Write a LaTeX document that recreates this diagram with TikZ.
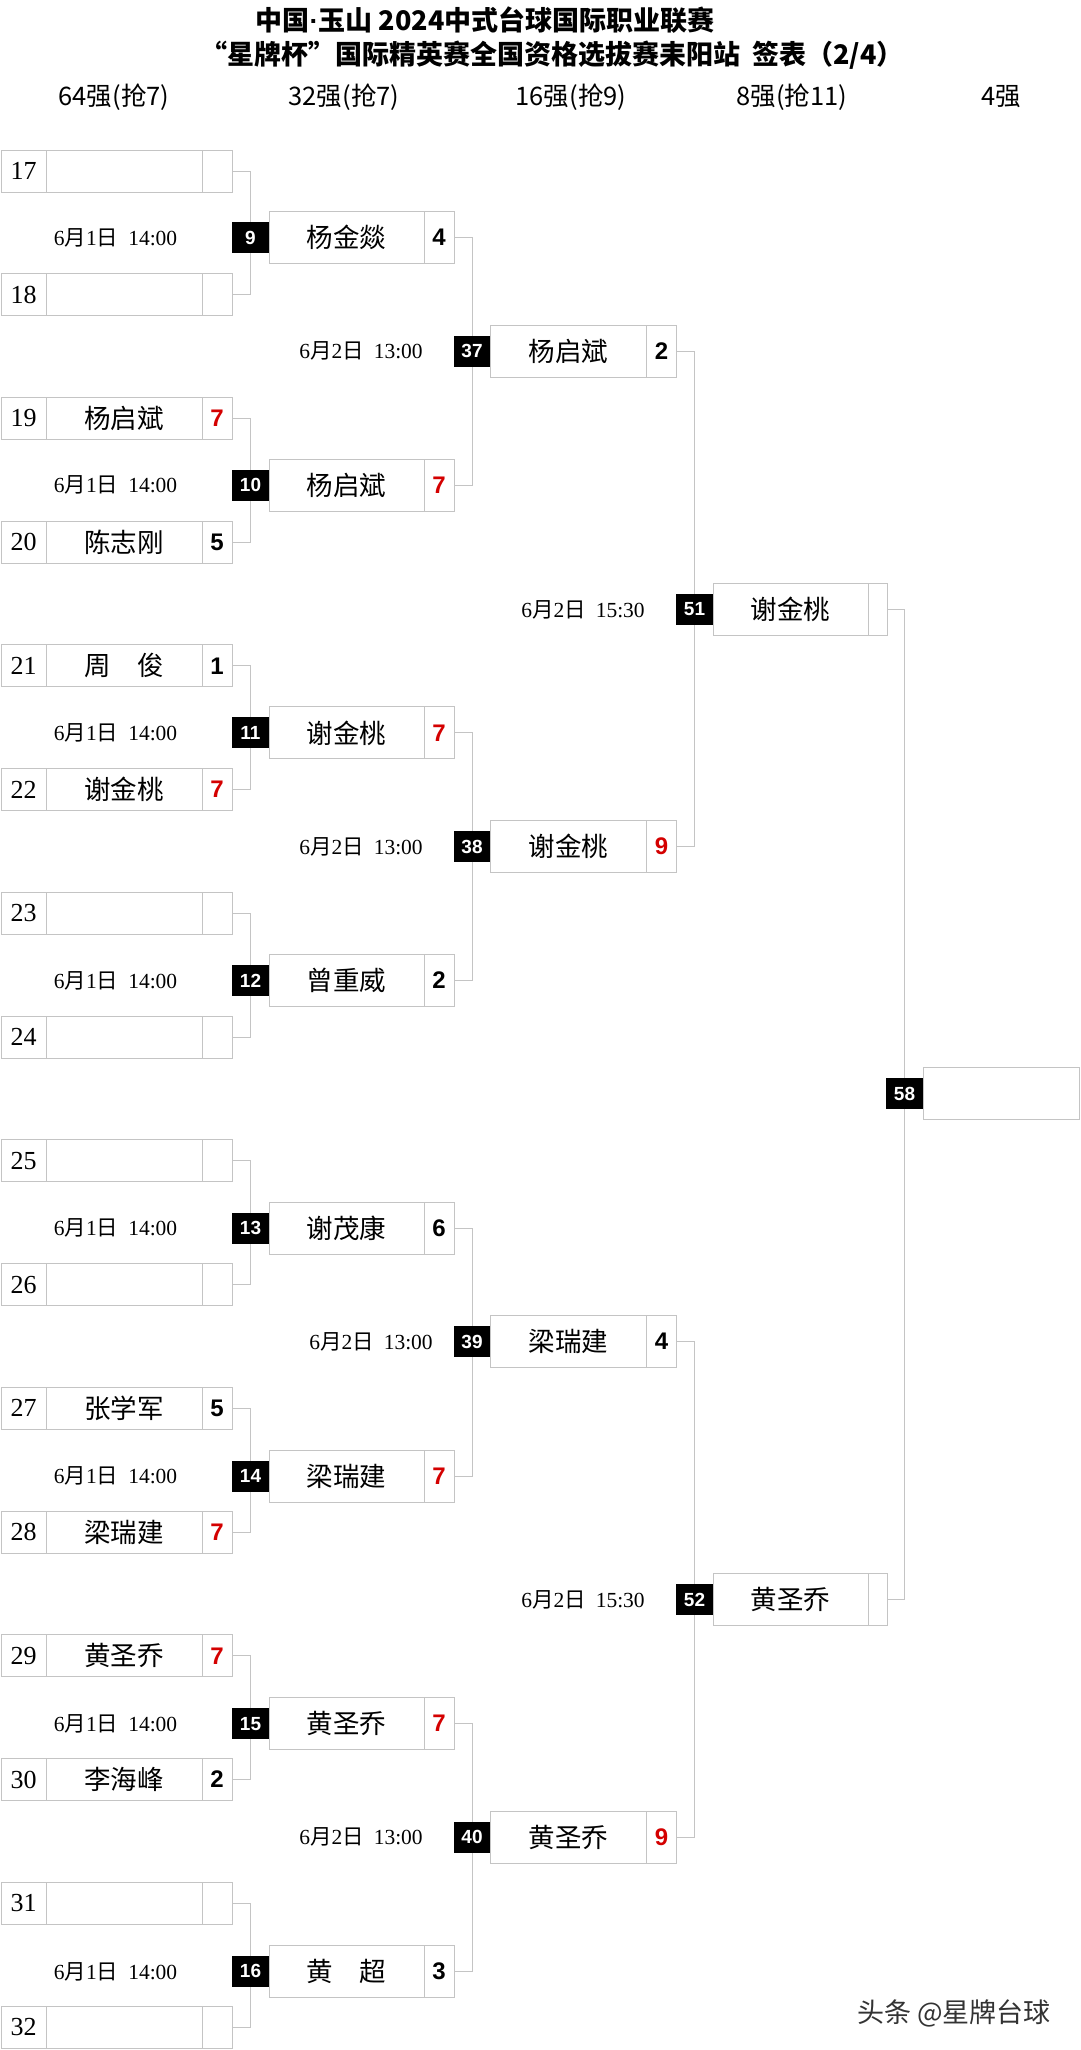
\documentclass[tikz,border=0pt]{standalone}
\usepackage{fontspec}
\setmainfont{Liberation Serif}
\newfontfamily\sansnum{Liberation Sans}
\newfontfamily\cjk{Noto Sans CJK SC}
\usetikzlibrary{positioning}
\definecolor{linegray}{HTML}{C4C4C4}
\definecolor{winred}{HTML}{D40000}
\newcommand{\when}[3]{#1{\cjk 月}#2{\cjk 日}\hspace{10pt}#3}

\begin{document}
\begin{tikzpicture}[x=1pt,y=-1pt,
    cell/.style={draw=linegray,line width=0.9pt,inner sep=0pt,outer sep=0pt},
    numcell/.style={cell,minimum width=45,minimum height=42,font=\fontsize{26}{26}\selectfont},
    namecell/.style={cell,minimum width=156,minimum height=42,font=\cjk\fontsize{26.5}{26.5}\selectfont},
    scorecell/.style={cell,minimum width=30,minimum height=42,font=\sansnum\bfseries\fontsize{24}{24}\selectfont},
    namebox/.style={namecell,minimum height=52},
    scorebox/.style={scorecell,minimum height=52},
    win/.style={text=winred},
    matchno/.style={fill=black,text=white,inner sep=0pt,outer sep=0pt,minimum width=37,minimum height=31,font=\sansnum\bfseries\fontsize{19}{19}\selectfont},
    datetext/.style={font=\fontsize{21.5}{21.5}\selectfont},
    header/.style={font=\cjk\fontsize{25.5}{25.5}\selectfont},
    link/.style={draw=linegray,line width=0.9pt}]
                \fill[white] (0,0) rectangle (1080,2050);
                \useasboundingbox (0,0) rectangle (1080,2050);
                % title and rounds
                \node[font=\cjk\bfseries\fontsize{27}{27}\selectfont] (title1) at (485,20) {中国{\sansnum\bfseries ·}玉山 2024中式台球国际职业联赛};
                \node[font=\cjk\bfseries\fontsize{27}{27}\selectfont] (title2) at (552,55) {“星牌杯”国际精英赛全国资格选拔赛耒阳站\ \ 签表（2/4）};
                \node[header] (h64) at (114,97) {64强(抢7)};
                \node[header] (h32) at (344,97) {32强(抢7)};
                \node[header] (h16) at (571,97) {16强(抢9)};
                \node[header] (h8) at (792,97) {8强(抢11)};
                \node[header] (h4) at (1001,97) {4强};
                % 64
                \node[numcell] (n17) at (23.5,171) {17};
                \node[namecell,right=0pt of n17] (p17) {};
                \node[scorecell,right=0pt of p17] (s17) {};
                \node[numcell] (n18) at (23.5,294.7) {18};
                \node[namecell,right=0pt of n18] (p18) {};
                \node[scorecell,right=0pt of p18] (s18) {};
                \node[numcell] (n19) at (23.5,418.5) {19};
                \node[namecell,right=0pt of n19] (p19) {杨启斌};
                \node[scorecell,win,right=0pt of p19] (s19) {7};
                \node[numcell] (n20) at (23.5,542.2) {20};
                \node[namecell,right=0pt of n20] (p20) {陈志刚};
                \node[scorecell,right=0pt of p20] (s20) {5};
                \node[numcell] (n21) at (23.5,665.9) {21};
                \node[namecell,right=0pt of n21] (p21) {周　俊};
                \node[scorecell,right=0pt of p21] (s21) {1};
                \node[numcell] (n22) at (23.5,789.6) {22};
                \node[namecell,right=0pt of n22] (p22) {谢金桃};
                \node[scorecell,win,right=0pt of p22] (s22) {7};
                \node[numcell] (n23) at (23.5,913.4) {23};
                \node[namecell,right=0pt of n23] (p23) {};
                \node[scorecell,right=0pt of p23] (s23) {};
                \node[numcell] (n24) at (23.5,1037.1) {24};
                \node[namecell,right=0pt of n24] (p24) {};
                \node[scorecell,right=0pt of p24] (s24) {};
                \node[numcell] (n25) at (23.5,1160.8) {25};
                \node[namecell,right=0pt of n25] (p25) {};
                \node[scorecell,right=0pt of p25] (s25) {};
                \node[numcell] (n26) at (23.5,1284.6) {26};
                \node[namecell,right=0pt of n26] (p26) {};
                \node[scorecell,right=0pt of p26] (s26) {};
                \node[numcell] (n27) at (23.5,1408.3) {27};
                \node[namecell,right=0pt of n27] (p27) {张学军};
                \node[scorecell,right=0pt of p27] (s27) {5};
                \node[numcell] (n28) at (23.5,1532) {28};
                \node[namecell,right=0pt of n28] (p28) {梁瑞建};
                \node[scorecell,win,right=0pt of p28] (s28) {7};
                \node[numcell] (n29) at (23.5,1655.8) {29};
                \node[namecell,right=0pt of n29] (p29) {黄圣乔};
                \node[scorecell,win,right=0pt of p29] (s29) {7};
                \node[numcell] (n30) at (23.5,1779.5) {30};
                \node[namecell,right=0pt of n30] (p30) {李海峰};
                \node[scorecell,right=0pt of p30] (s30) {2};
                \node[numcell] (n31) at (23.5,1903.2) {31};
                \node[namecell,right=0pt of n31] (p31) {};
                \node[scorecell,right=0pt of p31] (s31) {};
                \node[numcell] (n32) at (23.5,2027) {32};
                \node[namecell,right=0pt of n32] (p32) {};
                \node[scorecell,right=0pt of p32] (s32) {};
                % 32
                \node[matchno] (m9) at (250.5,237.5) {9};
                \node[namebox,minimum width=155,right=0pt of m9] (w9) {杨金燚};
                \node[scorebox,right=0pt of w9] (t9) {4};
                \node[matchno] (m10) at (250.5,485.2) {10};
                \node[namebox,minimum width=155,right=0pt of m10] (w10) {杨启斌};
                \node[scorebox,win,right=0pt of w10] (t10) {7};
                \node[matchno] (m11) at (250.5,732.9) {11};
                \node[namebox,minimum width=155,right=0pt of m11] (w11) {谢金桃};
                \node[scorebox,win,right=0pt of w11] (t11) {7};
                \node[matchno] (m12) at (250.5,980.6) {12};
                \node[namebox,minimum width=155,right=0pt of m12] (w12) {曾重威};
                \node[scorebox,right=0pt of w12] (t12) {2};
                \node[matchno] (m13) at (250.5,1228.3) {13};
                \node[namebox,minimum width=155,right=0pt of m13] (w13) {谢茂康};
                \node[scorebox,right=0pt of w13] (t13) {6};
                \node[matchno] (m14) at (250.5,1476) {14};
                \node[namebox,minimum width=155,right=0pt of m14] (w14) {梁瑞建};
                \node[scorebox,win,right=0pt of w14] (t14) {7};
                \node[matchno] (m15) at (250.5,1723.7) {15};
                \node[namebox,minimum width=155,right=0pt of m15] (w15) {黄圣乔};
                \node[scorebox,win,right=0pt of w15] (t15) {7};
                \node[matchno] (m16) at (250.5,1971.4) {16};
                \node[namebox,minimum width=155,right=0pt of m16] (w16) {黄　超};
                \node[scorebox,right=0pt of w16] (t16) {3};
                % 16
                \node[matchno] (m37) at (472,351) {37};
                \node[namebox,right=0pt of m37] (w37) {杨启斌};
                \node[scorebox,right=0pt of w37] (t37) {2};
                \node[matchno] (m38) at (472,846.5) {38};
                \node[namebox,right=0pt of m38] (w38) {谢金桃};
                \node[scorebox,win,right=0pt of w38] (t38) {9};
                \node[matchno] (m39) at (472,1341.5) {39};
                \node[namebox,right=0pt of m39] (w39) {梁瑞建};
                \node[scorebox,right=0pt of w39] (t39) {4};
                \node[matchno] (m40) at (472,1837) {40};
                \node[namebox,right=0pt of m40] (w40) {黄圣乔};
                \node[scorebox,win,right=0pt of w40] (t40) {9};
                % 8 and 4
                \node[matchno] (m51) at (694.5,609.5) {51};
                \node[namebox,minimum width=155,right=0pt of m51] (w51) {谢金桃};
                \node[scorebox,minimum width=19,right=0pt of w51] (t51) {};
                \node[matchno] (m52) at (694.5,1599.5) {52};
                \node[namebox,minimum width=155,right=0pt of m52] (w52) {黄圣乔};
                \node[scorebox,minimum width=19,right=0pt of w52] (t52) {};
                \node[matchno] (m58) at (904.5,1093.5) {58};
                \node[namebox,right=0pt of m58] (w58) {};
                % dates
                \node[datetext] (d9) at (115.5,237.5) {\when{6}{1}{14:00}};
                \node[datetext] (d10) at (115.5,485.2) {\when{6}{1}{14:00}};
                \node[datetext] (d11) at (115.5,732.9) {\when{6}{1}{14:00}};
                \node[datetext] (d12) at (115.5,980.6) {\when{6}{1}{14:00}};
                \node[datetext] (d13) at (115.5,1228.3) {\when{6}{1}{14:00}};
                \node[datetext] (d14) at (115.5,1476) {\when{6}{1}{14:00}};
                \node[datetext] (d15) at (115.5,1723.7) {\when{6}{1}{14:00}};
                \node[datetext] (d16) at (115.5,1971.4) {\when{6}{1}{14:00}};
                \node[datetext] (d37) at (361,351) {\when{6}{2}{13:00}};
                \node[datetext] (d38) at (361,846.5) {\when{6}{2}{13:00}};
                \node[datetext] (d39) at (371,1341.5) {\when{6}{2}{13:00}};
                \node[datetext] (d40) at (361,1837) {\when{6}{2}{13:00}};
                \node[datetext] (d51) at (583,609.5) {\when{6}{2}{15:30}};
                \node[datetext] (d52) at (583,1599.5) {\when{6}{2}{15:30}};
                \node[font=\cjk\fontsize{27}{27}\selectfont,text=black!80] (mark) at (954,2013) {头条 @星牌台球};
                % connectors
                \draw[link] (s17.east) -| (m9.north);
                \draw[link] (s18.east) -| (m9.south);
                \draw[link] (s19.east) -| (m10.north);
                \draw[link] (s20.east) -| (m10.south);
                \draw[link] (s21.east) -| (m11.north);
                \draw[link] (s22.east) -| (m11.south);
                \draw[link] (s23.east) -| (m12.north);
                \draw[link] (s24.east) -| (m12.south);
                \draw[link] (s25.east) -| (m13.north);
                \draw[link] (s26.east) -| (m13.south);
                \draw[link] (s27.east) -| (m14.north);
                \draw[link] (s28.east) -| (m14.south);
                \draw[link] (s29.east) -| (m15.north);
                \draw[link] (s30.east) -| (m15.south);
                \draw[link] (s31.east) -| (m16.north);
                \draw[link] (s32.east) -| (m16.south);
                \draw[link] (t9.east) -| (m37.north);
                \draw[link] (t10.east) -| (m37.south);
                \draw[link] (t11.east) -| (m38.north);
                \draw[link] (t12.east) -| (m38.south);
                \draw[link] (t13.east) -| (m39.north);
                \draw[link] (t14.east) -| (m39.south);
                \draw[link] (t15.east) -| (m40.north);
                \draw[link] (t16.east) -| (m40.south);
                \draw[link] (t37.east) -| (m51.north);
                \draw[link] (t38.east) -| (m51.south);
                \draw[link] (t39.east) -| (m52.north);
                \draw[link] (t40.east) -| (m52.south);
                \draw[link] (t51.east) -| (m58.north);
                \draw[link] (t52.east) -| (m58.south);
            \end{tikzpicture}
\end{document}
